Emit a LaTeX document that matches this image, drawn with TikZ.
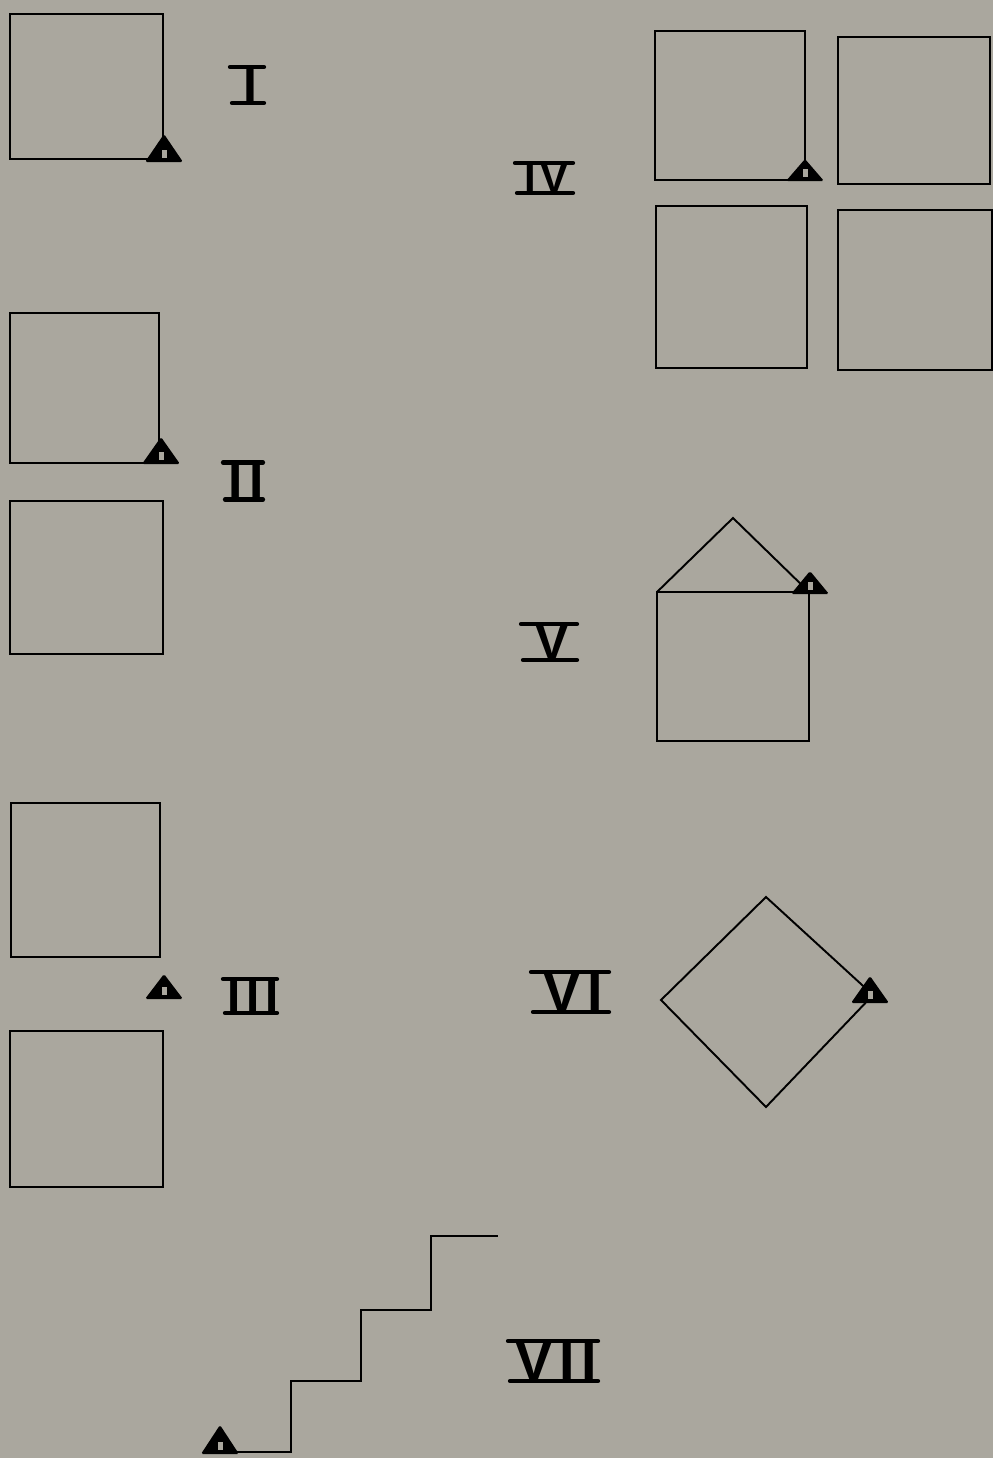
\documentclass[tikz,border=0pt]{standalone}
\usepackage{fontspec}
\setsansfont{Liberation Sans}
\definecolor{bg}{RGB}{170,167,158}
\tikzset{
  x=0.02cm, y=-0.02cm,
  sq/.style={line width=1.1pt, line join=miter},
  bar/.style={line width=2.4pt, line cap=round},
  numtext/.style={inner sep=0pt, outer sep=0pt, font=\sffamily\bfseries\fontsize{#1}{#1}\selectfont\addfontfeature{LetterSpace=12}},
}
\newcommand\marker[3]{%
  \fill[black, rounded corners=1pt] (#2-19,#3) -- (#2,#3-#1) -- (#2+19,#3) -- cycle;
  \fill[bg] (#2-2.5,#3-12) rectangle (#2+2.5,#3-4);}
\newcommand\numeral[7]{% name, cx, cy, h, w, size, text
  \node[numtext=#6] (#1) at (#2,#3) {#7\kern-0.12em};
  \draw[bar] (#2-#5,#3-#4) -- (#2+#5,#3-#4);
  \draw[bar] (#2-#5+2,#3+#4) -- (#2+#5,#3+#4);}
\begin{document}
\begin{tikzpicture}
\fill[bg] (0,0) rectangle (993,1458);
\useasboundingbox (0,0) rectangle (993,1458);

% I
\draw[sq] (10,14) rectangle (163,159);
\marker{28}{164}{162}
\numeral{nI}{247}{85}{18}{17}{28.5pt}{I}

% II
\draw[sq] (10,313) rectangle (159,463);
\draw[sq] (10,501) rectangle (163,654);
\marker{27}{161}{464}
\numeral{nII}{243}{481}{18.5}{20}{29.3pt}{II}

% III
\draw[sq] (11,803) rectangle (160,957);
\draw[sq] (10,1031) rectangle (163,1187);
\marker{25}{164}{999}
\numeral{nIII}{250}{996}{17}{27}{27pt}{III}

% IV
\draw[sq] (655,31) rectangle (805,180);
\draw[sq] (838,37) rectangle (990,184);
\draw[sq] (656,206) rectangle (807,368);
\draw[sq] (838,210) rectangle (992,370);
\marker{22}{805}{181}
\numeral{nIV}{544}{178}{15}{29}{23.8pt}{IV}

% V
\draw[sq] (657,592) rectangle (809,741);
\draw[sq] (657,592) -- (733,518) -- (809,592);
\marker{23}{810}{594}
\numeral{nV}{549}{642}{18}{28}{28.5pt}{V}

% VI
\draw[sq] (766,897) -- (873,995) -- (766,1107) -- (661,1000) -- cycle;
\marker{27}{870}{1003}
\numeral{nVI}{570}{992}{20}{39}{31.7pt}{VI}

% VII
\draw[sq] (222,1452) -- (291,1452) -- (291,1381) -- (361,1381) -- (361,1310)
  -- (431,1310) -- (431,1236) -- (498,1236);
\marker{29}{220}{1454}
\numeral{nVII}{553}{1361}{20}{45}{31.7pt}{VII}
\end{tikzpicture}
\end{document}
